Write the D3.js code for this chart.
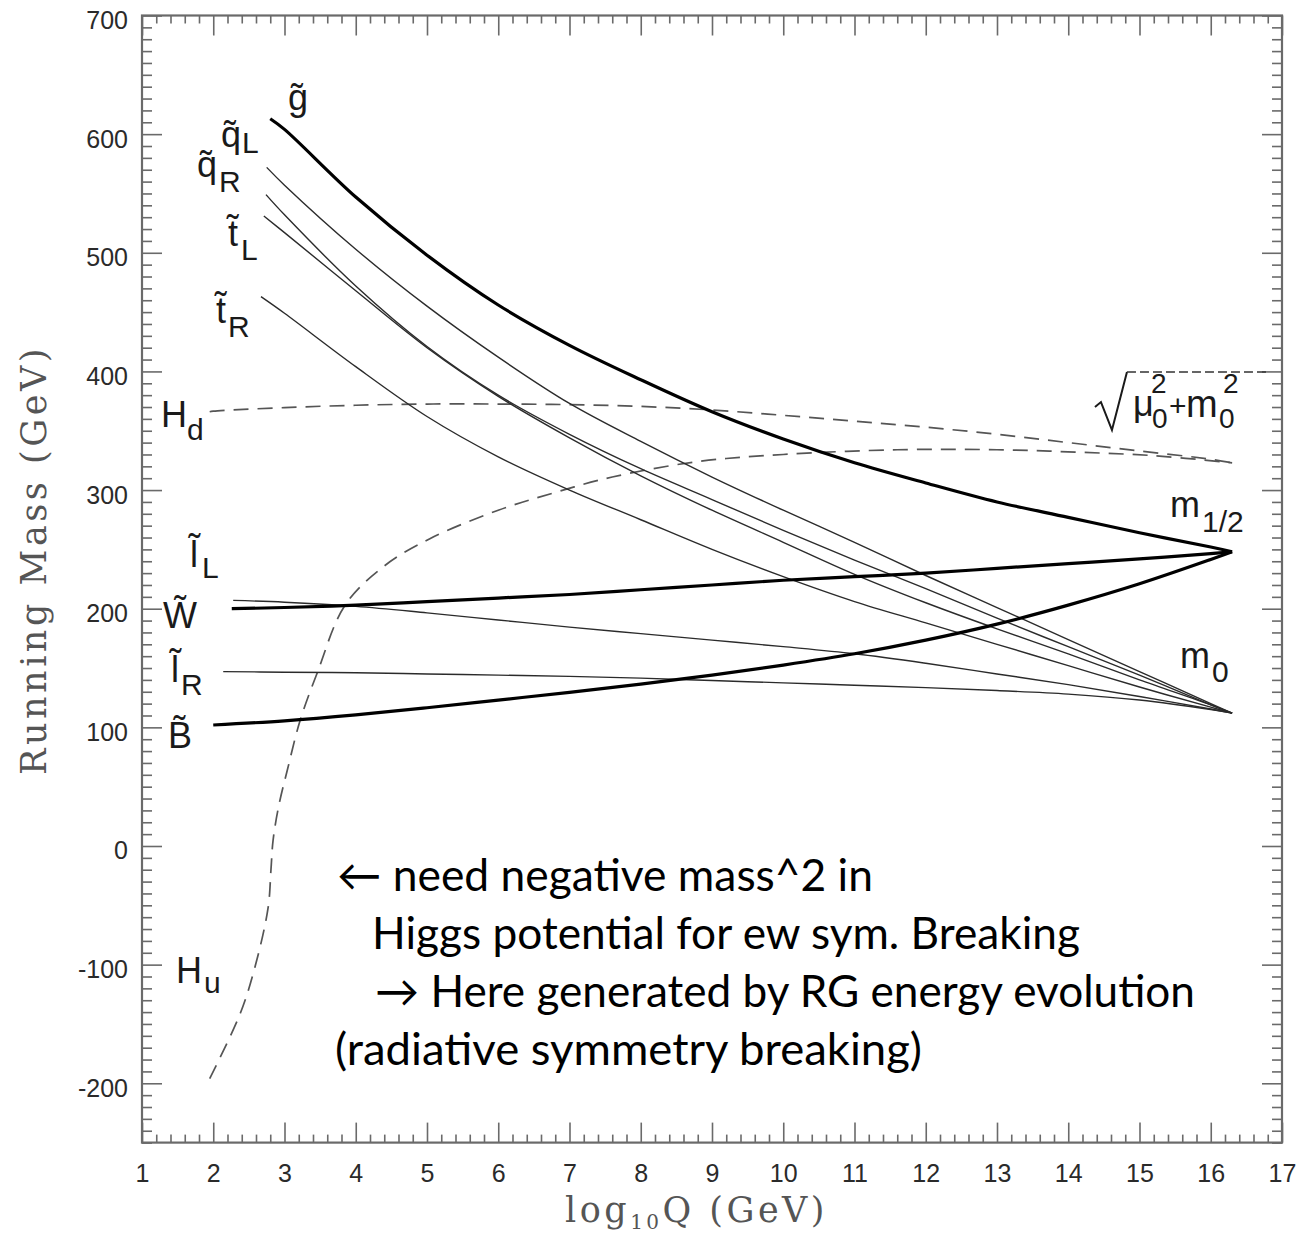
<!DOCTYPE html>
<html><head><meta charset="utf-8">
<script src="https://cdn.jsdelivr.net/npm/d3@7"></script>
<style>body{margin:0;background:#fff}</style>
</head><body>
<svg id="c" width="1303" height="1235"></svg>
<script>
// ---------------- data ----------------
const xTickValues = [1,2,3,4,5,6,7,8,9,10,11,12,13,14,15,16,17];
const yTickValues = [-200,-100,0,100,200,300,400,500,600,700];

const gluinoX = [2.8,3,4,5,6,7,8,9,10,11,12,13,14,15,16,16.3];
const gluinoY = [613,604,547,498,456,422,393,366,343,323,306,290,277,264,252,248];

const sqLX = [2.75,3,4,5,6,7,8,9,10,11,12,13,14,15,16,16.3];
const sqLY = [572,557,503,455,412,373,341,311,283,256,228,201,174,147,120,112];

const sqRX = [2.74,3,4,5,6,7,8,9,10,11,12,13,14,15,16,16.3];
const sqRY = [549,532,472,421,380,347,318,292,266,241,217,192,168,144,119,112];

const stLX = [2.71,3,4,5,6,7,8,9,10,11,12,13,14,15,16,16.3];
const stLY = [531,517,468,420,379,344,312,283,256,229,205,183,162,140,119,112];

const stRX = [2.67,3,4,5,6,7,8,9,10,11,12,13,14,15,16,16.3];
const stRY = [463,449,404,362,328,300,275,250,227,206,188,170,152,134,117,112];

const winoX = [2.26,3,4,5,6,7,8,9,10,11,12,13,14,15,16,16.3];
const winoY = [200,201,203,206,209,212,216,220,224,227,230,234,238,242,246.5,248];

const binoX = [2,3,4,5,6,7,8,9,10,11,12,13,14,15,16,16.3];
const binoY = [102,105.5,110.5,116.5,123,129.5,136.5,144,152.5,162,173.5,187,203,221,241.5,248];

const slLX = [2.28,3,4,5,6,7,8,9,10,11,12,13,14,15,16,16.3];
const slLY = [207,205.5,202,196.5,190.5,184.5,179,173.5,168,162,154,145,136,126,115.5,112];

const slRX = [2.14,3,4,5,6,7,8,9,10,11,12,13,14,15,16,16.3];
const slRY = [147,146.5,146,145,144,143,141.5,139.5,137.5,135.5,133.5,131,128,123,115,112];

const hdX = [1.95,2,3,4,5,6,7,8,9,10,11,12,13,14,15,16,16.3];
const hdY = [366,366.5,369.5,371.5,372.5,372.5,372,370.5,367.5,363,358,353,347,340,333,326,323];

const huX = [1.95,2.38,2.59,2.77,2.81,2.84,2.92,3.04,3.22,3.46,3.85,4.4,5.04,6.0,6.8,7.6,8.8,10,11.6,13,14.1,15.2,16.3];
const huY = [-196,-141,-101,-52,-20,5,34,64,106,146,203,236,259,283,298,311,324,330,334,334,332,329,323];

// curve labels: letter (with tilde mark), subscript, anchor in data coordinates
const labelNames = ["g\u0303","q\u0303","q\u0303","t\u0303","t\u0303","H","l\u0303","W\u0303","l\u0303","B\u0303","H","m","m"];
const labelSubs  = ["","L","R","L","R","d","L","","R","","u","1/2","0"];
const labelX = [3.077,2.137,1.800,2.235,2.067,1.295,1.702,1.323,1.435,1.393,1.505,15.456,15.596];
const labelY = [620.4,589.2,563.9,505.7,440.8,353.2,235.2,183.7,138.2,82.6,-115.5,277.3,150.0];
const rootLabelX = 14.375, rootLabelY = 362.4;

const noteLines = [
  "\u2190 need negative mass^2 in",
  "Higgs potential for ew sym. Breaking",
  "\u2192 Here generated by RG energy evolution",
  "(radiative symmetry breaking)"
];
const noteX = 3.737, noteY = -37.9;

// ---------------- drawing ----------------
const svg = d3.select("#c");
const x = d3.scaleLinear().domain([1,17]).range([142,1282]);
const y = d3.scaleLinear().domain([-250,700]).range([1142.6,15.5]);

const axisColor = "#6a6a6a";
const sansFont = "'Liberation Sans', Arial, Helvetica, sans-serif";

function styleAxis(g){
  g.select(".domain").remove();
  g.selectAll(".tick line").attr("stroke",axisColor).attr("stroke-width",1.6);
  g.selectAll(".tick text").attr("fill","#2a2a2a").style("font-family",sansFont).style("font-size","25px");
}
const isMinor = v => Math.abs(v-Math.round(v)) > 1e-6;
const xMinor = d3.range(1,17.0001,0.2).filter(isMinor);
const yMinor = d3.range(-250,700.001,10).filter(v => v % 100 !== 0);

// left
svg.append("g").attr("transform",`translate(${x(1)},0)`)
  .call(d3.axisLeft(y).tickValues(yTickValues).tickSize(-20).tickPadding(14).tickFormat(d=>String(d)))
  .call(styleAxis).call(g=>g.selectAll(".tick text").attr("dy","0.52em"));
svg.append("g").attr("transform",`translate(${x(1)},0)`)
  .call(d3.axisLeft(y).tickValues(yMinor).tickSize(-10).tickFormat(""))
  .call(styleAxis);
// right
svg.append("g").attr("transform",`translate(${x(17)},0)`)
  .call(d3.axisRight(y).tickValues(yTickValues).tickSize(-20).tickFormat(""))
  .call(styleAxis);
svg.append("g").attr("transform",`translate(${x(17)},0)`)
  .call(d3.axisRight(y).tickValues(yMinor).tickSize(-10).tickFormat(""))
  .call(styleAxis);
// bottom
svg.append("g").attr("transform",`translate(0,${y(-250)})`)
  .call(d3.axisBottom(x).tickValues(xTickValues).tickSize(-20).tickPadding(22).tickFormat(d=>String(d)))
  .call(styleAxis).call(g=>g.selectAll(".tick text").attr("dy","0.71em"));
svg.append("g").attr("transform",`translate(0,${y(-250)})`)
  .call(d3.axisBottom(x).tickValues(xMinor).tickSize(-8).tickFormat(""))
  .call(styleAxis);
// top
svg.append("g").attr("transform",`translate(0,${y(700)})`)
  .call(d3.axisTop(x).tickValues(xTickValues).tickSize(-20).tickFormat(""))
  .call(styleAxis);
svg.append("g").attr("transform",`translate(0,${y(700)})`)
  .call(d3.axisTop(x).tickValues(xMinor).tickSize(-8).tickFormat(""))
  .call(styleAxis);

// frame
svg.append("rect").attr("x",x(1)).attr("y",y(700))
  .attr("width",x(17)-x(1)).attr("height",y(-250)-y(700))
  .attr("fill","none").attr("stroke",axisColor).attr("stroke-width",2.2);

// curves
const line = d3.line().x(d=>x(d[0])).y(d=>y(d[1])).curve(d3.curveCatmullRom.alpha(0.5));
const series = [
  {xs:hdX, ys:hdY, type:"dash"},
  {xs:huX, ys:huY, type:"dash"},
  {xs:slRX, ys:slRY, type:"thin"},
  {xs:slLX, ys:slLY, type:"thin"},
  {xs:stRX, ys:stRY, type:"thin"},
  {xs:stLX, ys:stLY, type:"thin"},
  {xs:sqRX, ys:sqRY, type:"thin"},
  {xs:sqLX, ys:sqLY, type:"thin"},
  {xs:binoX, ys:binoY, type:"thick"},
  {xs:winoX, ys:winoY, type:"thick"},
  {xs:gluinoX, ys:gluinoY, type:"thick"}
];
const styles = {
  thin:{stroke:"#2b2b2b", w:1.4, dash:null},
  thick:{stroke:"#000", w:3.2, dash:null},
  dash:{stroke:"#555", w:1.7, dash:"15,9"}
};
series.forEach(s=>{
  const st = styles[s.type];
  svg.append("path")
    .datum(s.xs.map((v,i)=>[v,s.ys[i]]))
    .attr("d",line)
    .attr("fill","none")
    .attr("stroke",st.stroke)
    .attr("stroke-width",st.w)
    .attr("stroke-linejoin","round")
    .attr("stroke-dasharray",st.dash);
});

// curve labels (letter + subscript in one text element)
const subOff = [[0,0],[20,6],[21,15],[12,14],[11,14],[25,13],[11,11],[0,0],[9,13],[0,0],[27,10],[31,15],[31,14]];
const labG = svg.append("g").attr("fill","#1a1a1a").style("font-family",sansFont);
labelNames.forEach((n,i)=>{
  const px = x(labelX[i]), py = y(labelY[i]);
  const t = labG.append("text").attr("x",px-2).attr("y",py).style("font-size","36px");
  t.append("tspan").text(n);
  if(labelSubs[i]) t.append("tspan").attr("x",px+subOff[i][0]-1).attr("y",py+subOff[i][1])
      .style("font-size","30px").text(labelSubs[i]);
});

// sqrt(mu0^2 + m0^2) label
const sqX = x(rootLabelX), sqY = y(rootLabelY);
const sg = svg.append("g").attr("transform",`translate(${sqX},${sqY})`).style("font-family",sansFont);
sg.append("path").attr("d","M0,-9 L6,-14 L17,14 L32,-44").attr("fill","none").attr("stroke","#1a1a1a").attr("stroke-width",2);
sg.append("line").attr("x1",32).attr("y1",-44).attr("x2",172).attr("y2",-44)
  .attr("stroke","#333").attr("stroke-width",1.6).attr("stroke-dasharray","9,4");
const rt = sg.append("text").attr("fill","#1a1a1a").attr("x",38).attr("y",0).style("font-size","36px");
rt.append("tspan").text("\u03bc");
rt.append("tspan").attr("x",57).attr("y",12).style("font-size","28px").text("0");
rt.append("tspan").attr("x",56).attr("y",-23).style("font-size","28px").text("2");
rt.append("tspan").attr("x",74).attr("y",0).style("font-size","30px").text("+");
rt.append("tspan").attr("x",91).attr("y",1).style("font-size","38px").text("m");
rt.append("tspan").attr("x",124).attr("y",12).style("font-size","28px").text("0");
rt.append("tspan").attr("x",128).attr("y",-23).style("font-size","28px").text("2");

// annotation text
const noteX0 = x(noteX), noteY0 = y(noteY);
const noteDx = [0,35,38,-2];
const noteW = [536,708,820,587];
noteLines.forEach((t,i)=>{
  svg.append("text").attr("x",noteX0+noteDx[i]).attr("y",noteY0+58*i)
    .style("font-family","Lato, 'Open Sans', sans-serif").style("font-size","44px")
    .attr("fill","#000")
    .attr("textLength",noteW[i]).attr("lengthAdjust","spacingAndGlyphs")
    .text(t);
});

// axis titles
const serif = "'DejaVu Serif', 'Liberation Serif', serif";
const xt = svg.append("text").attr("x",565).attr("y",1222).attr("fill","#555")
  .style("font-family",serif).style("font-size","35px");
xt.append("tspan").text("log");
xt.append("tspan").attr("dy",7).style("font-size","20px").text("10");
xt.append("tspan").attr("dy",-7).text("Q (GeV)");
{
  const w = xt.node().getComputedTextLength();
  const n = "log10Q (GeV)".length;
  xt.style("letter-spacing",Math.max(0,(263-w)/n)+"px");
}
const yt = svg.append("text").attr("transform","translate(46,775) rotate(-90)").attr("fill","#555")
  .style("font-family",serif).style("font-size","35px").text("Running Mass (GeV)");
{
  const w = yt.node().getComputedTextLength();
  const n = "Running Mass (GeV)".length;
  yt.style("letter-spacing",Math.max(0,(430-w)/n)+"px");
}
</script>
</body></html>
